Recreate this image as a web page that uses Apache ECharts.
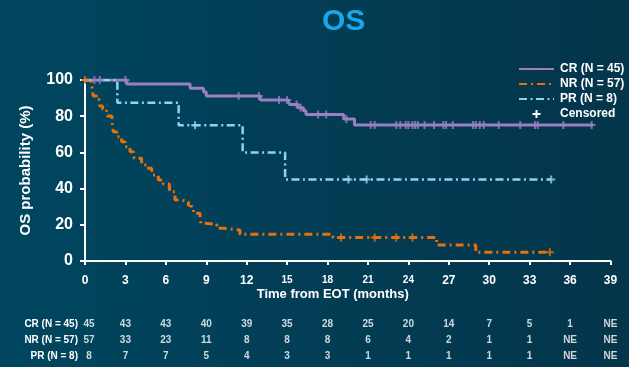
<!DOCTYPE html>
<html>
<head>
<meta charset="utf-8">
<script src="https://cdn.jsdelivr.net/npm/echarts@6/dist/echarts.min.js"></script>
<style>
html,body{margin:0;padding:0;background:#023e57;}
#c{width:629px;height:367px;}
</style>
</head>
<body>
<div id="c"></div>
<script>
// ---- data ----
var crCurve = [[0,100],[3.1,97.8],[7.8,95.4],[8.8,93.4],[9.0,91.2],[13.0,89.0],[15.1,87.7],[15.2,86.4],[15.8,84.7],[16.2,83.0],[16.4,81.0],[19.2,78.5],[20.0,75.1],[37.7,75.1]];
var nrCurve = [[0,100],[0.25,99.1],[0.5,96.7],[0.57,93.5],[0.6,91.2],[0.87,89.3],[1.04,87.7],[1.1,85.6],[1.31,83.8],[1.6,82.5],[1.65,80.1],[2.0,77.0],[2.05,74.2],[2.1,71.4],[2.35,68.7],[2.72,65.9],[2.97,63.1],[3.34,60.4],[3.59,58.6],[3.65,56.7],[4.2,54.9],[4.25,53.0],[4.58,51.2],[4.95,49.3],[5.0,47.5],[5.44,44.8],[5.81,42.5],[6.26,40.3],[6.3,38.3],[6.68,33.7],[7.18,32.8],[7.67,30.9],[7.72,30.0],[8.04,26.4],[8.54,23.6],[8.6,20.8],[8.9,20.3],[9.78,18.1],[10.27,17.1],[11.5,14.75],[18.4,13.0],[26.1,8.8],[29.0,4.8],[34.5,4.8]];
var prCurve = [[0,100],[2.4,87.5],[6.95,75.0],[11.7,60.0],[14.85,45.0],[34.6,45.0]];

var crCensor = [[0.7,100],[1.1,100],[3.0,100],[11.4,91.2],[12.9,91.2],[14.4,89.0],[15.0,89.0],[15.7,86.4],[16.0,84.7],[17.3,81.0],[17.9,81.0],[19.4,78.5],
  [21.2,75.1],[21.5,75.1],[23.1,75.1],[23.4,75.1],[23.8,75.1],[24.0,75.1],[24.3,75.1],[24.5,75.1],[24.7,75.1],[25.2,75.1],[25.9,75.1],[26.6,75.1],[26.8,75.1],[27.3,75.1],[28.8,75.1],[29.0,75.1],[29.3,75.1],[29.6,75.1],[30.7,75.1],[32.3,75.1],[33.4,75.1],[33.6,75.1],[35.5,75.1],[37.6,75.1]];
var nrCensor = [[0,100],[19.0,13.0],[21.5,13.0],[23.1,13.0],[24.3,13.0],[34.5,4.8]];
var prCensor = [[8.17,75.0],[19.55,45.0],[20.9,45.0],[34.6,45.0]];

var seriesNames = ['CR (N = 45)','NR (N = 57)','PR (N = 8)'];
var censorName = 'Censored';
var xTicks = [0,3,6,9,12,15,18,21,24,27,30,33,36,39];
var smallTicks = [15,18,21,24];
var riskTimes = [0,3,6,9,12,15,18,21,24,27,30,33,36,39];
var riskCR = ['45','43','43','40','39','35','28','25','20','14','7','5','1','NE'];
var riskNR = ['57','33','23','11','8','8','8','6','4','2','1','1','NE','NE'];
var riskPR = ['8','7','7','5','4','3','3','1','1','1','1','1','NE','NE'];

// ---- styles ----
var colCR = '#9b7fc1', colNR = '#e5700c', colPR = '#8fd2f4';
var plus = 'path://M-1,-4h2v3h3v2h-3v3h-2v-3h-3v-2h3z';
var FONT = '"Liberation Sans", Arial, sans-serif';

function riskSeries(vals, row){
  return {
    type:'scatter', xAxisIndex:1, yAxisIndex:1, symbolSize:1, silent:true,
    itemStyle:{color:'rgba(0,0,0,0)'},
    label:{show:true, position:'inside', color:'#fff', fontFamily:FONT, fontWeight:'bold', fontSize:10,
      formatter:function(p){return p.value[2];}},
    data: riskTimes.map(function(t,i){
      var d = {value:[t,row,vals[i]]};
      if (i === 0) d.label = {offset:[4,0]};
      return d;
    })
  };
}
function censorSeries(data,color){
  return {type:'scatter', symbol:plus, symbolSize:8, itemStyle:{color:color}, z:5, silent:true, data:data};
}

var chart = echarts.init(document.getElementById('c'));
chart.setOption({
  animation:false,
  backgroundColor:{type:'linear',x:0,y:0,x2:1,y2:0,colorStops:[{offset:0,color:'#00465f'},{offset:1,color:'#04354b'}]},
  title:{text:'OS', left:322, top:7, padding:0, textStyle:{color:'#18a8ea', fontSize:30, fontWeight:'bold', fontFamily:FONT}},
  legend:{
    orient:'vertical', left:513, top:58, itemWidth:35, itemHeight:8, itemGap:3,
    itemStyle:{opacity:0},
    textStyle:{color:'#fff', fontSize:12, fontWeight:'bold', fontFamily:FONT, padding:[0,0,0,1]},
    data:[seriesNames[0],seriesNames[1],seriesNames[2],{name:censorName, itemStyle:{opacity:1, color:'#fff'}}]
  },
  grid:[
    {left:85, right:18.5, top:80, bottom:106},
    {left:85, right:18.5, top:316, height:48}
  ],
  xAxis:[
    {type:'value', min:0, max:39, interval:3,
     axisLine:{lineStyle:{color:'#fff', width:2}},
     axisTick:{show:true, length:4, lineStyle:{color:'#fff', width:2}},
     splitLine:{show:false},
     axisLabel:{color:'#fff', fontWeight:'bold', fontSize:12, fontFamily:FONT, margin:14,
       formatter:function(v){return smallTicks.indexOf(v)>=0 ? '{s|'+v+'}' : String(v);},
       rich:{s:{fontSize:10, fontWeight:'bold', color:'#fff', fontFamily:FONT, padding:[0,0,3,0]}}},
     name:'Time from EOT (months)', nameLocation:'middle', nameGap:27,
     nameTextStyle:{color:'#fff', fontWeight:'bold', fontSize:13, fontFamily:FONT, padding:[0,30,0,0]}
    },
    {type:'value', gridIndex:1, min:0, max:39, show:false}
  ],
  yAxis:[
    {type:'value', min:0, max:100, interval:20,
     axisLine:{show:true, lineStyle:{color:'#fff', width:2}},
     axisTick:{show:true, length:5, lineStyle:{color:'#fff', width:2}},
     splitLine:{show:false},
     axisLabel:{color:'#fff', fontWeight:'bold', fontSize:16, fontFamily:FONT, margin:12},
     name:'OS probability (%)', nameLocation:'middle', nameGap:52,
     nameTextStyle:{color:'#fff', fontWeight:'bold', fontSize:15, fontFamily:FONT}
    },
    {type:'category', gridIndex:1, inverse:true, data:seriesNames,
     axisLine:{show:false}, axisTick:{show:false}, splitLine:{show:false},
     axisLabel:{color:'#fff', fontWeight:'bold', fontSize:10, fontFamily:FONT, margin:7}}
  ],
  series:[
    {name:seriesNames[0], type:'line', step:'end', symbol:'none', data:crCurve, z:3,
     lineStyle:{color:colCR, width:3}, itemStyle:{color:colCR}},
    {name:seriesNames[1], type:'line', step:'end', symbol:'none', data:nrCurve, z:3,
     lineStyle:{color:colNR, width:3, type:[8,4,2,4]}, itemStyle:{color:colNR}},
    {name:seriesNames[2], type:'line', step:'end', symbol:'none', data:prCurve, z:3,
     lineStyle:{color:colPR, width:2.5, type:[8,3.5,2,3.5]}, itemStyle:{color:colPR}},
    {name:censorName, type:'scatter', symbol:plus, symbolSize:8, itemStyle:{color:'#fff'}, data:[]},
    censorSeries(crCensor,colCR),
    censorSeries(nrCensor,colNR),
    censorSeries(prCensor,colPR),
    riskSeries(riskCR,0),
    riskSeries(riskNR,1),
    riskSeries(riskPR,2)
  ]
});
</script>
</body>
</html>
